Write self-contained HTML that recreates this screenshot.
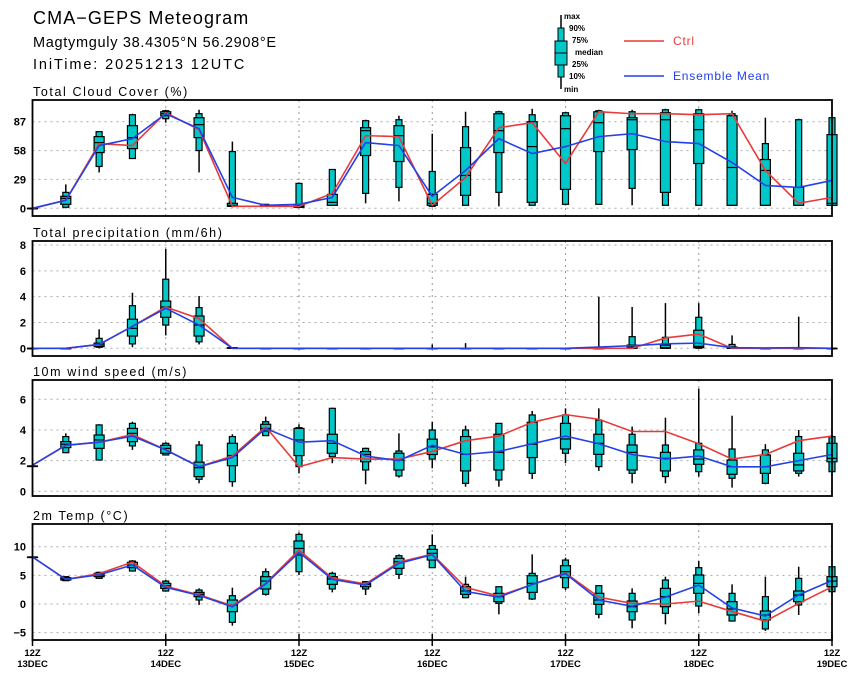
<!DOCTYPE html>
<html><head><meta charset="utf-8">
<style>
html,body{margin:0;padding:0;background:#fff;}
svg{display:block;font-family:"Liberation Sans",sans-serif;}
</style></head>
<body>
<svg id="chart" width="859" height="678" viewBox="0 0 859 678" xmlns="http://www.w3.org/2000/svg">
<text x="33" y="24" font-size="18" letter-spacing="1.1" fill="#000">CMA−GEPS Meteogram</text>
<text x="33" y="47" font-size="14.5" letter-spacing="0.7" fill="#000">Magtymguly 38.4305°N 56.2908°E</text>
<text x="33" y="69" font-size="14.5" letter-spacing="1.9" fill="#000">IniTime: 20251213 12UTC</text>
<g>
<line x1="561" y1="15" x2="561" y2="89" stroke="#000" stroke-width="1.5"/>
<rect x="558" y="28" width="6" height="49" fill="#00c8c8" stroke="#000"/>
<rect x="555" y="41" width="12" height="24" fill="#00c8c8" stroke="#000"/>
<line x1="555" y1="53" x2="567" y2="53" stroke="#000"/>
<g font-size="8" font-weight="bold" fill="#000">
<text x="564" y="19">max</text><text x="569" y="31">90%</text><text x="572" y="43">75%</text>
<text x="575" y="55">median</text><text x="572" y="67">25%</text><text x="569" y="79">10%</text><text x="564" y="92">min</text>
</g></g>
<g>
<line x1="624" y1="41" x2="664" y2="41" stroke="#e83a3a" stroke-width="1.5"/>
<text x="673" y="45" font-size="12" letter-spacing="0.8" fill="#e83a3a">Ctrl</text></g>
<g>
<line x1="624" y1="76" x2="664" y2="76" stroke="#2440e8" stroke-width="1.5"/>
<text x="673" y="80" font-size="12" letter-spacing="0.8" fill="#2440e8">Ensemble Mean</text></g>
</svg>
<script>
// ---- data: 25 steps, 6-hourly from 12Z 13DEC ----
const dayLabels = ["13DEC","14DEC","15DEC","16DEC","17DEC","18DEC","19DEC"];
// cloud cover [min,p10,p25,med,p75,p90,max]
const cloudBox = [[0,0,0,0,0,0,0],[0,1,4,10,12,16,24],[36,42,56,66,72,77,77],[50,50,60,71,83,94,95],[86,90,93,95,97,98,99],[36,58,71,84,91,95,99],[1,2,2,3,5,57,67],[2,2,2,3,3,4,4],[1,1,1,2,3,25,26],[3,3,3,6,14,39,39],[5,15,53,78,81,88,89],[7,21,47,73,83,89,93],[1,2,3,5,14,37,75],[3,3,13,33,61,82,97],[2,16,56,78,95,97,98],[3,3,6,62,87,94,100],[3,4,19,80,93,96,97],[4,4,57,86,97,98,99],[3,20,59,89,91,97,99],[3,3,16,89,96,99,100],[3,3,45,79,95,99,100],[3,3,3,41,93,95,98],[3,3,3,38,49,65,91],[3,3,3,21,21,89,90],[3,3,3,5,74,91,92]];
const cloudCtrl = [0,8,65,63,96,79,2,2,2,15,73,72,3,31,81,86,45,97,95,95,94,95,38,5,11];
const cloudMean = [0,8,63,70,95,80,11,3,4,11,66,63,12,38,70,55,62,72,75,67,65,46,23,21,28];
// precipitation
const precBox = [[0,0,0,0,0,0,0],[0,0,0,0,0,0,0],[0,0.08,0.13,0.26,0.4,0.77,1.47],[0.08,0.34,0.95,1.55,2.25,3.3,4.3],[1,1.8,2.4,3.2,3.66,5.35,7.7],[0.3,0.5,0.95,1.8,2.5,3.15,4.05],[0,0,0,0.03,0.05,0.05,0.05],[0,0,0,0,0,0,0],[0,0,0,0,0,0,0],[0,0,0,0,0,0,0],[0,0,0,0,0,0,0],[0,0,0,0,0,0,0],[0,0,0,0,0,0,0.3],[0,0,0,0,0,0,0.4],[0,0,0,0,0,0,0],[0,0,0,0,0,0,0],[0,0,0,0,0,0,0],[0,0,0,0,0,0,4.0],[0,0,0,0.1,0.25,0.9,3.2],[0,0,0,0.05,0.25,0.85,3.5],[0,0,0.05,0.15,1.4,2.4,3.5],[0,0,0,0,0.1,0.3,1.0],[0,0,0,0,0,0,0],[0,0,0,0,0,0,2.45],[0,0,0,0,0,0,0]];
const precCtrl = [0,0,0.3,1.7,3.2,2.3,0,0,0,0,0,0,0,0,0,0,0,0,0,0.8,1.1,0,0,0,0];
const precMean = [0,0,0.3,1.7,3.1,1.8,0,0,0,0,0,0,0,0,0,0,0,0.1,0.2,0.35,0.4,0.05,0.03,0.05,0];
// wind
const windBox = [[1.65,1.65,1.65,1.65,1.65,1.65,1.65],[2.48,2.52,2.85,3.07,3.24,3.57,3.78],[2.04,2.04,2.8,3.35,3.67,4.33,4.37],[2.7,2.96,3.24,3.78,4.1,4.43,4.54],[2.33,2.37,2.48,2.8,3.0,3.13,3.2],[0.52,0.78,0.96,1.54,1.9,3.02,3.28],[0.3,0.63,1.67,2.33,3.13,3.57,3.72],[3.63,3.63,3.93,4.1,4.37,4.54,4.87],[1.17,1.61,2.33,3.35,4.1,4.15,4.37],[1.83,2.26,2.48,3.13,3.72,5.41,5.46],[0.46,1.39,1.93,2.41,2.59,2.8,2.85],[0.89,1.0,1.39,2.04,2.48,2.63,3.78],[1.5,2.1,2.4,2.9,3.4,4.0,4.54],[0.3,0.52,1.33,2.41,3.57,4.0,4.28],[0.3,0.74,1.39,2.54,3.72,4.43,4.43],[0.8,1.17,2.2,3.07,4.5,4.98,5.24],[1.83,2.48,2.76,3.41,4.43,4.98,5.41],[1.33,1.61,2.41,3.13,3.72,4.65,5.41],[0.52,1.17,1.39,2.54,3.02,3.72,4.22],[0.52,0.96,1.33,2.15,2.54,3.02,4.8],[0.96,1.28,1.76,2.1,2.7,3.13,6.7],[0.24,0.85,1.11,1.61,2.04,2.76,4.93],[0.46,0.52,1.17,1.61,2.37,2.7,3.07],[0.96,1.17,1.33,1.72,2.48,3.57,4.0],[1.28,1.28,1.93,2.15,3.13,3.57,3.67]];
const windCtrl = [1.7,3.0,3.2,3.7,2.7,1.6,2.3,4.2,1.6,2.2,2.1,2.1,2.6,3.3,3.6,4.5,5.0,4.7,3.9,3.9,3.1,2.1,2.4,3.3,3.6];
const windMean = [1.7,3.0,3.2,3.6,2.7,1.6,2.2,4.1,3.2,3.3,2.3,2.0,3.0,2.4,2.6,3.1,3.6,3.1,2.4,2.1,2.3,1.6,1.6,2.0,2.4];
// temperature
const tempBox = [[8.2,8.2,8.2,8.2,8.2,8.2,8.2],[4.07,4.07,4.19,4.36,4.6,4.77,4.77],[4.48,4.48,4.77,5.06,5.35,5.52,5.64],[5.64,5.76,6.34,6.8,7.27,7.5,7.67],[2.15,2.27,2.73,3.2,3.6,4.0,4.19],[-0.17,0.7,1.28,1.69,2.03,2.44,2.73],[-3.78,-3.2,-1.34,-0.17,0.7,1.45,2.85],[1.45,1.69,2.62,4.0,4.77,5.64,6.22],[5.06,5.64,8.55,9.7,11.0,12.15,12.5],[2.03,2.62,3.43,4.36,4.77,5.35,5.64],[1.57,2.62,3.02,3.43,3.6,3.9,4.0],[4.36,5.17,6.22,7.38,7.97,8.43,8.66],[6.34,6.34,7.67,8.84,9.53,10.2,12.15],[1.0,1.1,1.69,2.27,3.02,3.43,4.77],[-1.8,0.12,0.41,1.28,1.86,3.02,3.02],[0.7,0.87,2.03,3.6,4.94,5.35,8.66],[2.44,2.85,4.6,5.64,6.69,7.67,8.08],[-2.5,-1.8,-0.06,0.7,1.86,3.2,3.31],[-4.24,-2.79,-1.34,-0.47,0.52,1.86,2.73],[-3.55,-1.63,-0.47,1.28,2.73,4.19,4.77],[-1.63,-0.35,1.86,3.6,5.06,6.34,7.5],[-3.08,-2.97,-1.92,-0.87,0.41,1.86,3.43],[-4.7,-4.36,-2.79,-1.92,-1.22,1.28,4.77],[-1.92,-0.17,0.41,1.57,2.27,4.48,6.51],[2.15,2.15,3.02,4.0,4.77,6.51,6.51]];
const tempCtrl = [8.2,4.3,5.3,7.3,3.1,1.6,-0.3,3.6,9.4,4.5,3.5,7.3,8.7,2.9,1.4,3.4,5.4,1.2,0.1,0.0,0.5,-1.3,-3.0,0.1,3.0];
const tempMean = [8.2,4.3,5.1,6.8,2.9,1.5,-0.5,3.5,9.0,4.3,3.3,7.1,8.6,2.2,1.2,3.4,5.3,0.7,-0.4,1.2,3.3,-0.7,-2.1,1.6,4.1];
// axis ticks
const cloudTicks = [0,29,58,87];
const precTicks = [0,2,4,6,8];
const windTicks = [0,2,4,6];
const tempTicks = [-5,0,5,10];

const svg = document.getElementById('chart');
const NS = 'http://www.w3.org/2000/svg';
const X0 = 32.5, X1 = 832, STEP = (X1 - X0) / 24;
function xPos(i){ return X0 + i * STEP; }
function mk(tag, attrs, parent){
  const e = document.createElementNS(NS, tag);
  for (const k in attrs) e.setAttribute(k, attrs[k]);
  (parent || svg).appendChild(e);
  return e;
}
function panel(cfg){
  const g = mk('g', {});
  
  
  const y = v => cfg.y0 + (v - cfg.v0) * (cfg.y1 - cfg.y0) / (cfg.v1 - cfg.v0);
  const t = mk('text', {x: 33, y: cfg.top - 4, 'font-size': 12.5, 'letter-spacing': 1.6, fill: '#000'}, g);
  t.textContent = cfg.title;
  
  
  cfg.ticks.forEach(v => {
    mk('line', {x1: X0, x2: X1, y1: y(v), y2: y(v), stroke: '#aaa', 'stroke-dasharray': '2,4', 'stroke-width': 1}, g);
    const tl = mk('text', {x: 26, y: y(v) + 4, 'font-size': 11, 'font-weight': 'bold', 'text-anchor': 'end', fill: '#000'}, g);
    tl.textContent = v < 0 ? '−' + Math.abs(v) : String(v);
    
    
  });
  for (let d = 1; d < 6; d++){
    mk('line', {x1: xPos(d*4), x2: xPos(d*4), y1: cfg.top, y2: cfg.bottom, stroke: '#999', 'stroke-dasharray': '2,4'}, g);
  }
  cfg.box.forEach((b, i) => {
    const cx = xPos(i);
    const bg = mk('g', {}, g);
    
    
    mk('line', {x1: cx, x2: cx, y1: y(b[0]), y2: y(b[6]), stroke: '#000', 'stroke-width': 1.5}, bg);
    mk('rect', {x: cx - 3, y: y(b[5]), width: 6, height: Math.max(0.5, y(b[1]) - y(b[5])), fill: '#00c8c8', stroke: '#000', 'stroke-width': 1.2}, bg);
    mk('rect', {x: cx - 5, y: y(b[4]), width: 10, height: Math.max(0.5, y(b[2]) - y(b[4])), fill: '#00c8c8', stroke: '#000', 'stroke-width': 1.2}, bg);
    mk('line', {x1: cx - 5, x2: cx + 5, y1: y(b[3]), y2: y(b[3]), stroke: '#000', 'stroke-width': 1.2}, bg);
  });
  const lc = mk('polyline', {points: cfg.ctrl.map((v,i) => xPos(i) + ',' + y(v)).join(' '), fill: 'none', stroke: '#e83a3a', 'stroke-width': 1.6}, g);
  
  
  const lm = mk('polyline', {points: cfg.mean.map((v,i) => xPos(i) + ',' + y(v)).join(' '), fill: 'none', stroke: '#2440e8', 'stroke-width': 1.6}, g);
  
  
  mk('rect', {x: X0, y: cfg.top, width: X1 - X0, height: cfg.bottom - cfg.top, fill: 'none', stroke: '#000', 'stroke-width': 1.8}, g);
}
panel({name:'cloud', title:'Total Cloud Cover (%)', top:100, bottom:216, v0:0, y0:208.3, v1:87, y1:121.7, ticks:cloudTicks, box:cloudBox, ctrl:cloudCtrl, mean:cloudMean});
panel({name:'precip', title:'Total precipitation (mm/6h)', top:241, bottom:356, v0:0, y0:348.3, v1:8, y1:245, ticks:precTicks, box:precBox, ctrl:precCtrl, mean:precMean});
panel({name:'wind', title:'10m wind speed (m/s)', top:380, bottom:496, v0:0, y0:491.3, v1:6, y1:399.3, ticks:windTicks, box:windBox, ctrl:windCtrl, mean:windMean});
panel({name:'temp', title:'2m Temp (°C)', top:524, bottom:640, v0:0, y0:604, v1:10, y1:546.7, ticks:tempTicks, box:tempBox, ctrl:tempCtrl, mean:tempMean});
dayLabels.forEach((d, k) => {
  const x = xPos(k*4);
  mk('line', {x1: x, x2: x, y1: 634, y2: 646, stroke: '#000', 'stroke-width': 1.5});
  const a = mk('text', {x: x, y: 656, 'font-size': 9.5, 'font-weight': 'bold', 'text-anchor': 'middle', fill: '#000'});
  a.textContent = '12Z';
  
  
  const b = mk('text', {x: x, y: 667, 'font-size': 9.5, 'font-weight': 'bold', 'text-anchor': 'middle', fill: '#000'});
  b.textContent = d;
  
  
});
</script>
</body></html>
